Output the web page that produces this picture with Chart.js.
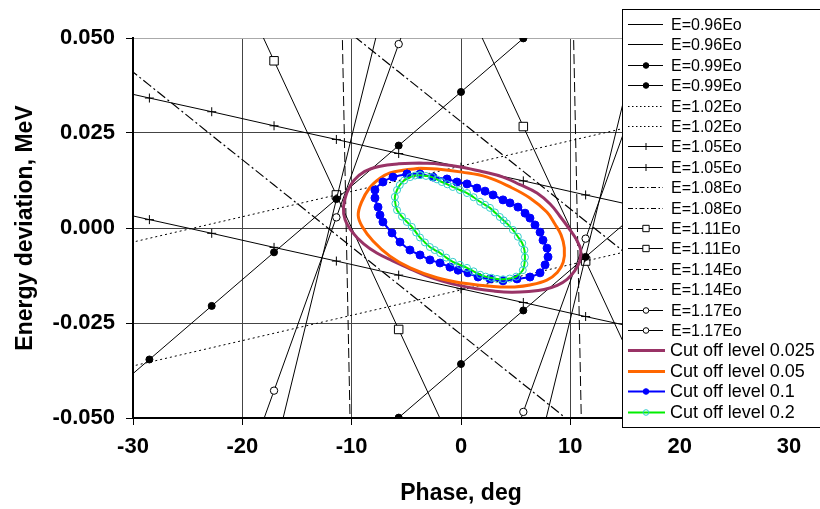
<!DOCTYPE html>
<html lang="en">
<head>
<meta charset="UTF-8">
<title>Phase acceptance</title>
<script src="https://cdn.jsdelivr.net/npm/chart.js"></script>
<style>
  body { margin: 0; background: #fff; }
  canvas { display: block; }
</style>
</head>
<body>
<canvas id="phaseChart" width="820" height="509"></canvas>
<script>
// phase grid of the trajectory lines, deg
const phase = [-34.2, -28.5, -22.8, -17.1, -11.4, -5.7, 0, 5.7, 11.4, 17.1, 22.8, 28.5, 34.2];

// energy deviation along the trajectories, MeV (upper and lower line for every energy)
const dE096a = [-0.2616, -0.1943, -0.1270, -0.0598, 0.0075, 0.0747, 0.1420, 0.2093, 0.2765, 0.3438, 0.4110, 0.4783, 0.5456];
const dE096b = [-0.5456, -0.4783, -0.4110, -0.3438, -0.2765, -0.2093, -0.1420, -0.0747, -0.0075, 0.0598, 0.1270, 0.1943, 0.2616];
const dE099a = [-0.0487, -0.0346, -0.0205, -0.0064, 0.0076, 0.0217, 0.0358, 0.0499, 0.0640, 0.0780, 0.0921, 0.1062, 0.1203];
const dE099b = [-0.1203, -0.1062, -0.0921, -0.0780, -0.0640, -0.0499, -0.0358, -0.0217, -0.0076, 0.0064, 0.0205, 0.0346, 0.0487];
const dE102a = [-0.0065, -0.0027, 0.0011, 0.0049, 0.0087, 0.0125, 0.0163, 0.0201, 0.0239, 0.0277, 0.0315, 0.0353, 0.0391];
const dE102b = [-0.0391, -0.0353, -0.0315, -0.0277, -0.0239, -0.0201, -0.0163, -0.0125, -0.0087, -0.0049, -0.0011, 0.0027, 0.0065];
const dE105a = [0.0379, 0.0342, 0.0306, 0.0269, 0.0233, 0.0196, 0.0160, 0.0124, 0.0087, 0.0051, 0.0014, -0.0022, -0.0059];
const dE105b = [0.0059, 0.0022, -0.0014, -0.0051, -0.0087, -0.0124, -0.0160, -0.0196, -0.0233, -0.0269, -0.0306, -0.0342, -0.0379];
const dE108a = [0.1067, 0.0936, 0.0804, 0.0673, 0.0542, 0.0411, 0.0280, 0.0149, 0.0018, -0.0113, -0.0244, -0.0376, -0.0507];
const dE108b = [0.0507, 0.0376, 0.0244, 0.0113, -0.0018, -0.0149, -0.0280, -0.0411, -0.0542, -0.0673, -0.0804, -0.0936, -0.1067];
const dE111a = [0.2740, 0.2387, 0.2034, 0.1680, 0.1327, 0.0973, 0.0620, 0.0267, -0.0087, -0.0440, -0.0794, -0.1147, -0.1500];
const dE111b = [0.1500, 0.1147, 0.0794, 0.0440, 0.0087, -0.0267, -0.0620, -0.0973, -0.1327, -0.1680, -0.2034, -0.2387, -0.2740];
const dE117a = [-0.1796, -0.1340, -0.0884, -0.0428, 0.0028, 0.0484, 0.0940, 0.1396, 0.1852, 0.2308, 0.2764, 0.3220, 0.3676];
const dE117b = [-0.3676, -0.3220, -0.2764, -0.2308, -0.1852, -0.1396, -0.0940, -0.0484, -0.0028, 0.0428, 0.0884, 0.1340, 0.1796];

// 1.14 Eo lines are nearly vertical, kept as phase at fixed dE
const dE114 = [-0.06, 0, 0.06];
const phase114a = [-10.08, -10.5, -10.92];
const phase114b = [11.07, 10.65, 10.23];

// separatrix contours for the cut off levels (closed, start and end at the top)
const cut025Phase = [-3.75, -1.9, 0.1, 2.0, 3.85, 5.4, 6.95, 8.15, 9.05, 9.9, 10.55, 10.95, 10.85, 10.4, 9.7, 8.8, 7.6, 6.2, 4.6, 3.0, 1.4, -0.2, -1.8, -3.4, -4.9, -6.3, -7.7, -8.9, -9.9, -10.6, -10.75, -10.45, -9.8, -8.8, -7.5, -5.7, -3.75];
const cut025dE = [0.0171, 0.0168, 0.0160, 0.0148, 0.0134, 0.0114, 0.0092, 0.0063, 0.0031, -0.0002, -0.0030, -0.0058, -0.0088, -0.0113, -0.0135, -0.0151, -0.0162, -0.0167, -0.0169, -0.0166, -0.0160, -0.0151, -0.0139, -0.0123, -0.0104, -0.0086, -0.0066, -0.0042, -0.0012, 0.0022, 0.0055, 0.0092, 0.0125, 0.0149, 0.0162, 0.0169, 0.0171];

const cut05Phase = [-3.75, -2.2, 0.1, 2.4, 4.5, 6.3, 7.85, 8.6, 9.15, 9.45, 9.35, 8.8, 7.85, 6.3, 4.9, 3.6, 2.2, 0.1, -2.2, -4.65, -6.5, -8.05, -9.0, -9.4, -9.1, -8.35, -7.4, -6.5, -5.3, -3.75];
const cut05dE = [0.0157, 0.0155, 0.0147, 0.0134, 0.0108, 0.0079, 0.0042, 0.0010, -0.0018, -0.0052, -0.0090, -0.0117, -0.0137, -0.0150, -0.0155, -0.0155, -0.0152, -0.0145, -0.0131, -0.0105, -0.0074, -0.0034, 0.0002, 0.0033, 0.0068, 0.0106, 0.0131, 0.0145, 0.0152, 0.0157];

const cut1Phase = [-4.94, -3.75, -2.56, -1.28, -0.37, 0.55, 1.46, 2.20, 2.93, 3.84, 4.48, 5.21, 5.86, 6.31, 6.77, 7.23, 7.50, 7.87, 7.96, 7.69, 7.23, 6.31, 5.12, 3.84, 2.65, 1.56, 0.64, -0.27, -1.01, -1.92, -2.84, -3.75, -4.67, -5.58, -6.31, -7.14, -7.41, -7.59, -7.87, -7.87, -7.14, -6.22, -4.94];
const cut1dE = [0.0142, 0.0142, 0.0134, 0.0129, 0.0121, 0.0116, 0.0105, 0.0097, 0.0087, 0.0074, 0.0066, 0.0055, 0.0039, 0.0026, 0.0008, -0.0011, -0.0032, -0.0053, -0.0076, -0.0097, -0.0118, -0.0129, -0.0134, -0.0139, -0.0134, -0.0129, -0.0118, -0.0111, -0.0103, -0.0092, -0.0084, -0.0071, -0.0058, -0.0037, -0.0013, 0.0016, 0.0034, 0.0055, 0.0079, 0.0100, 0.0121, 0.0134, 0.0142];

const cut2Phase = [-3.75, -3.2, -2.65, -2.2, -1.75, -1.25, -0.75, -0.1, 0.55, 1.15, 1.75, 2.2, 2.65, 3.1, 3.55, 3.9, 4.2, 4.75, 5.2, 5.6, 5.8, 5.85, 5.8, 5.65, 5.05, 4.45, 3.85, 3.3, 2.8, 2.25, 1.75, 1.15, 0.55, -0.1, -0.75, -1.35, -1.9, -2.4, -2.85, -3.3, -3.75, -4.1, -4.5, -4.95, -5.4, -5.85, -6.0, -6.05, -5.85, -5.6, -5.2, -4.65, -4.2, -3.75];
const cut2dE = [0.0139, 0.0137, 0.0134, 0.0128, 0.0121, 0.0115, 0.0108, 0.0100, 0.0092, 0.0081, 0.0069, 0.0061, 0.0053, 0.0041, 0.0029, 0.0020, 0.0012, -0.0005, -0.0023, -0.0040, -0.0058, -0.0077, -0.0095, -0.0111, -0.0128, -0.0133, -0.0135, -0.0134, -0.0131, -0.0128, -0.0123, -0.0114, -0.0105, -0.0097, -0.0089, -0.0078, -0.0066, -0.0058, -0.0050, -0.0038, -0.0025, -0.0012, 0.0003, 0.0016, 0.0030, 0.0047, 0.0064, 0.0082, 0.0100, 0.0113, 0.0125, 0.0134, 0.0138, 0.0139];

const xTicks = [-30, -20, -10, 0, 10, 20, 30];
const yTicks = [-0.05, -0.025, 0, 0.025, 0.05];

const FONT = '"Liberation Sans", Arial, sans-serif';

function pts(xs, ys) {
    return xs.map((x, i) => ({ x: x, y: ys[i] }));
}

// one trajectory line, black, with optional markers
function traj(label, ys, style) {
    return Object.assign({
        label: label,
        data: pts(phase, ys),
        showLine: true,
        borderColor: '#000',
        borderWidth: 1,
        borderDash: [],
        legendDash: [],
        pointRadius: 0,
        pointStyle: 'circle',
        pointBackgroundColor: '#000',
        pointBorderColor: '#000',
        pointBorderWidth: 1,
        tension: 0,
        order: 10
    }, style || {});
}

const dotted = { borderDash: [2, 3], legendDash: [1.5, 2.5] };
const dashDot = { borderDash: [10, 3, 2, 3], borderWidth: 1.2, legendDash: [5, 2.5, 1.5, 2.5] };
const dashed = { borderDash: [10, 4], legendDash: [5, 3] };
const dots = { pointRadius: 3.5 };
const crosses = { pointStyle: 'cross', pointRadius: 4.5 };
const squares = { pointStyle: 'rect', pointRadius: 6, pointBackgroundColor: '#fff' };
const rings = { pointRadius: 3.7, pointBackgroundColor: '#fff' };

const datasets = [
    traj('E=0.96Eo', dE096a),
    traj('E=0.96Eo', dE096b),
    traj('E=0.99Eo', dE099a, dots),
    traj('E=0.99Eo', dE099b, dots),
    traj('E=1.02Eo', dE102a, dotted),
    traj('E=1.02Eo', dE102b, dotted),
    traj('E=1.05Eo', dE105a, crosses),
    traj('E=1.05Eo', dE105b, crosses),
    traj('E=1.08Eo', dE108a, dashDot),
    traj('E=1.08Eo', dE108b, dashDot),
    traj('E=1.11Eo', dE111a, squares),
    traj('E=1.11Eo', dE111b, squares),
    traj('E=1.14Eo', [], Object.assign({ data: pts(phase114a, dE114) }, dashed)),
    traj('E=1.14Eo', [], Object.assign({ data: pts(phase114b, dE114) }, dashed)),
    traj('E=1.17Eo', dE117a, rings),
    traj('E=1.17Eo', dE117b, rings),
    {
        label: 'Cut off level 0.025', data: pts(cut025Phase, cut025dE), showLine: true,
        borderColor: '#993366', borderWidth: 3, pointRadius: 0, tension: 0.4, order: 4
    },
    {
        label: 'Cut off level 0.05', data: pts(cut05Phase, cut05dE), showLine: true,
        borderColor: '#ff6600', borderWidth: 3, pointRadius: 0, tension: 0.4, order: 3
    },
    {
        label: 'Cut off level 0.1', data: pts(cut1Phase, cut1dE), showLine: true,
        borderColor: '#0000ff', borderWidth: 2, pointRadius: 4, pointStyle: 'circle',
        pointBackgroundColor: '#0000ff', pointBorderColor: '#0000ff', pointBorderWidth: 1,
        tension: 0.3, order: 2
    },
    {
        label: 'Cut off level 0.2', data: pts(cut2Phase, cut2dE), showLine: true,
        borderColor: '#00ee00', borderWidth: 2, pointRadius: 3.5, pointStyle: 'circle',
        pointBackgroundColor: 'rgba(0,0,0,0)', pointBorderColor: '#33cccc', pointBorderWidth: 1,
        tension: 0.3, order: 1
    }
];

// boxed legend laid over the right part of the plot
const boxLegend = {
    id: 'boxLegend',
    afterDraw(chart) {
        const ctx = chart.ctx;
        ctx.save();
        ctx.fillStyle = '#fff';
        ctx.fillRect(622, 9, 220, 418);
        ctx.strokeStyle = '#000';
        ctx.lineWidth = 1;
        ctx.setLineDash([]);
        ctx.strokeRect(622.5, 9.5, 220, 418);

        chart.data.datasets.forEach((ds, i) => {
            const y = Math.round(24 + i * 20.4) + 0.5;
            const big = ds.label.indexOf('Cut') === 0;
            ctx.strokeStyle = ds.borderColor;
            ctx.lineWidth = big ? ds.borderWidth : 1;
            ctx.setLineDash(ds.legendDash || []);
            ctx.beginPath();
            ctx.moveTo(628, y);
            ctx.lineTo(big ? 665 : 663, y);
            ctx.stroke();
            ctx.setLineDash([]);
            if (ds.pointRadius > 0) {
                ctx.fillStyle = ds.pointBackgroundColor;
                ctx.strokeStyle = ds.pointBorderColor;
                ctx.lineWidth = 1;
                const r = ds.pointStyle === 'rect' ? 4.5 : (ds.pointStyle === 'cross' ? 3.5 : 2.8);
                Chart.helpers.drawPoint(ctx, { pointStyle: ds.pointStyle, radius: r, rotation: 0, borderWidth: 1 }, 646, y);
            }
            ctx.fillStyle = '#000';
            ctx.font = (big ? '18px ' : '16px ') + FONT;
            ctx.textBaseline = 'middle';
            ctx.textAlign = 'left';
            ctx.fillText(ds.label, big ? 670 : 671, y + 1);
        });
        ctx.restore();
    }
};

new Chart(document.getElementById('phaseChart'), {
    type: 'scatter',
    data: { datasets: datasets },
    options: {
        responsive: false,
        animation: false,
        events: [],
        layout: { padding: { left: 0, top: 38, right: 31, bottom: 0 } },
        plugins: { legend: { display: false }, tooltip: { enabled: false } },
        scales: {
            x: {
                type: 'linear', min: -30, max: 30,
                afterFit: s => { s.height = 91; },
                afterBuildTicks: s => { s.ticks = xTicks.map(v => ({ value: v })); },
                ticks: { color: '#000', padding: 9, font: { family: FONT, size: 22, weight: 'bold' } },
                grid: { color: '#444', lineWidth: 1, tickLength: 7, tickColor: '#000' },
                border: { display: true, color: '#000', width: 2 },
                title: {
                    display: true, text: 'Phase, deg', color: '#000',
                    font: { family: FONT, size: 23, weight: 'bold' }, padding: { top: 0, bottom: 2 }
                }
            },
            y: {
                type: 'linear', min: -0.05, max: 0.05,
                afterFit: s => { s.width = 133; },
                afterBuildTicks: s => { s.ticks = yTicks.map(v => ({ value: v })); },
                ticks: {
                    color: '#000', padding: 11, font: { family: FONT, size: 22, weight: 'bold' },
                    callback: v => (Math.abs(v) < 1e-9 ? 0 : v).toFixed(3)
                },
                grid: {
                    color: c => (c.tick && c.tick.value === 0.05 ? '#aaa' : '#444'),
                    lineWidth: 1, tickLength: 7, tickColor: '#000'
                },
                border: { display: true, color: '#000', width: 2 },
                title: {
                    display: true, text: 'Energy deviation, MeV', color: '#000',
                    font: { family: FONT, size: 23, weight: 'bold' }, padding: { top: 12, bottom: 0 }
                }
            }
        }
    },
    plugins: [boxLegend]
});
</script>
</body>
</html>
